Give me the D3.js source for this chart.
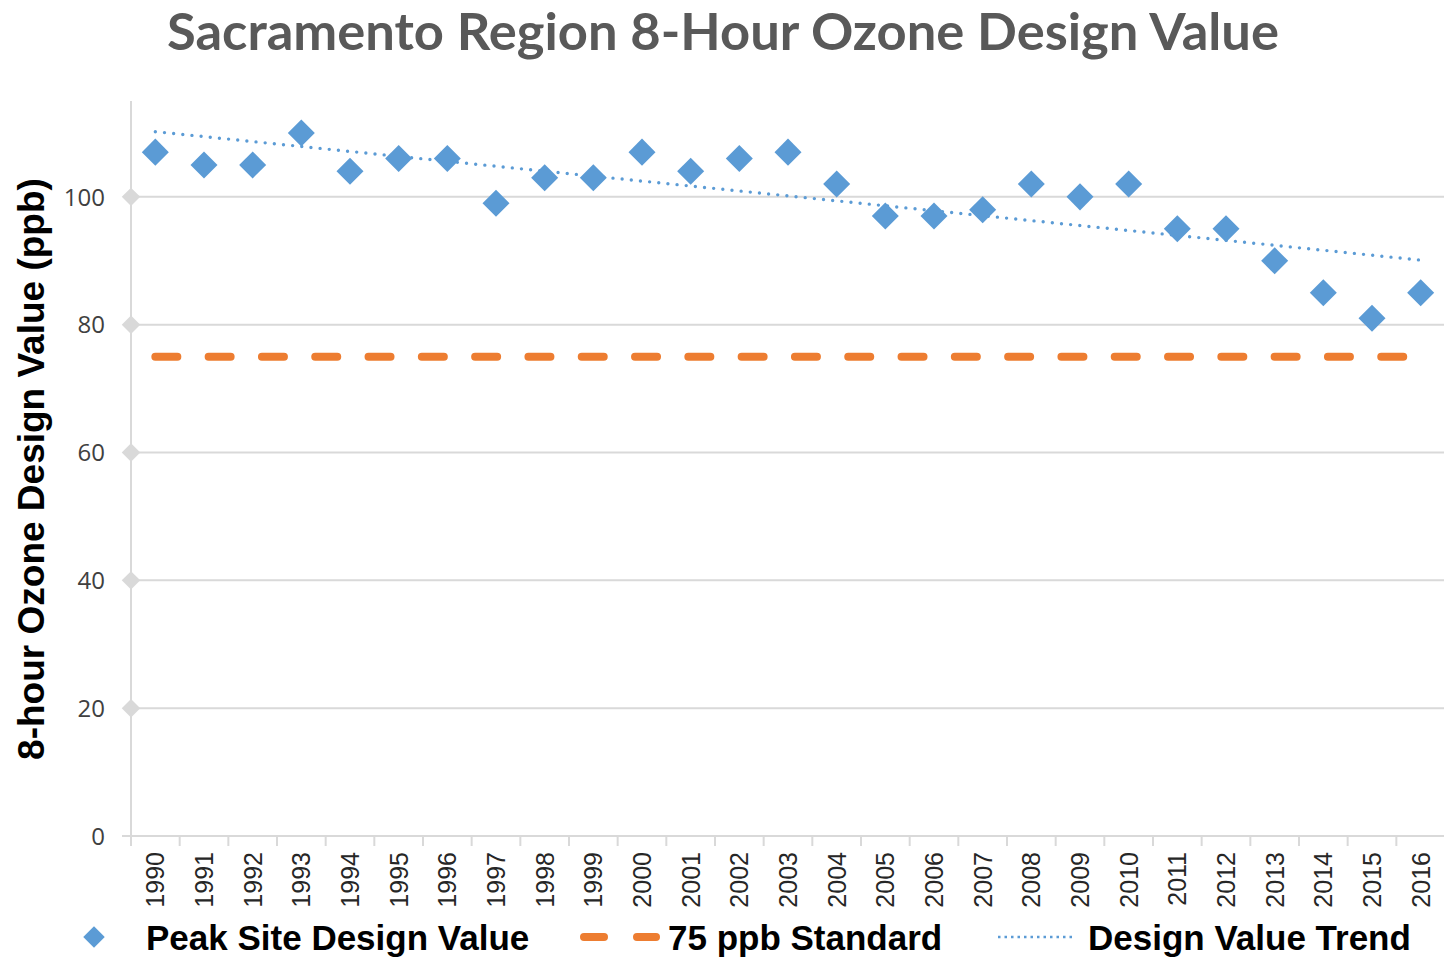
<!DOCTYPE html>
<html>
<head>
<meta charset="utf-8">
<script src="https://cdn.jsdelivr.net/npm/d3@7"></script>
<style>
  body { margin: 0; background: #fff; }
</style>
</head>
<body>
<script>
// chart data
const years = ["1990","1991","1992","1993","1994","1995","1996","1997","1998","1999",
               "2000","2001","2002","2003","2004","2005","2006","2007","2008","2009",
               "2010","2011","2012","2013","2014","2015","2016"];
const peakValues = [107,105,105,110,104,106,106,99,103,103,
                    107,104,106,107,102,97,97,98,102,100,
                    102,95,95,90,85,81,85];
const standardValue = 75;
const trendYears = ["1990", "2016"];
const trendValues = [110.2, 90.1];
const yTicks = [0, 20, 40, 60, 80, 100];
const legendLabels = ["Peak Site Design Value", "75 ppb Standard", "Design Value Trend"];
const chartTitle = "Sacramento Region 8-Hour Ozone Design Value";
const yTitle = "8-hour Ozone Design Value (ppb)";

const blue = "#5B9BD5", orange = "#ED7D31", grid = "#D9D9D9";

let margin = null, width = null, height = null;
let svg = null, root = null;
let x, y = null;

setupCanvasSize();
appendSvg("body");
setupScales();
appendGrid();
appendAxes();
appendStandardLine();
appendTrendLine();
appendPoints();
appendTitles();
appendLegend();

// center of a year's band
function cx(d) {
  return x(d) + x.bandwidth() / 2;
}

function setupCanvasSize() {
  margin = {top: 101, left: 131, bottom: 122, right: 0};
  width = 1445 - margin.left;
  height = 836 - margin.top;
}

function appendSvg(domElement) {
  root = d3.select(domElement).append("svg")
    .attr("width", 1444)
    .attr("height", 958);
  svg = root.append("g")
    .attr("transform", `translate(${margin.left}, ${margin.top})`);
}

function setupScales() {
  x = d3.scaleBand()
    .range([0, width])
    .domain(years)
    .padding(0);
  y = d3.scaleLinear()
    .range([height, 0])
    .domain([0, 115]);
}

function appendGrid() {
  svg.selectAll(".grid")
    .data(yTicks.filter(d => d > 0))
    .enter().append("line")
    .attr("class", "grid")
    .attr("x1", 0).attr("x2", width)
    .attr("y1", d => y(d)).attr("y2", d => y(d))
    .style("stroke", grid).style("stroke-width", 2);
}

function appendAxes() {
  // y axis line
  svg.append("line")
    .attr("x1", 0).attr("x2", 0)
    .attr("y1", 0).attr("y2", height + 10)
    .style("stroke", grid).style("stroke-width", 2);
  // x axis line
  svg.append("line")
    .attr("x1", -9).attr("x2", width)
    .attr("y1", height).attr("y2", height)
    .style("stroke", grid).style("stroke-width", 2);

  // category boundary ticks
  svg.selectAll(".xtick")
    .data(years.slice(1))
    .enter().append("line")
    .attr("class", "xtick")
    .attr("x1", d => x(d)).attr("x2", d => x(d))
    .attr("y1", height).attr("y2", height + 10)
    .style("stroke", grid).style("stroke-width", 2);

  // y tick markers
  svg.selectAll(".ymark")
    .data(yTicks.filter(d => d > 0))
    .enter().append("path")
    .attr("class", "ymark")
    .attr("d", d3.symbol(d3.symbolSquare, 170))
    .attr("transform", d => `translate(0, ${y(d)}) rotate(45)`)
    .style("fill", grid);

  svg.selectAll(".ylabel")
    .data(yTicks)
    .enter().append("text")
    .attr("class", "ylabel")
    .attr("x", -26)
    .attr("y", d => y(d))
    .attr("dy", "0.36em")
    .style("text-anchor", "end")
    .style("font-family", "'Open Sans', sans-serif")
    .style("font-size", "24px")
    .style("fill", "#404040")
    .text(d => d);

  svg.selectAll(".xlabel")
    .data(years)
    .enter().append("text")
    .attr("class", "xlabel")
    .attr("transform", d => `translate(${cx(d)}, ${height + 16}) rotate(-90)`)
    .attr("dy", "0.36em")
    .style("text-anchor", "end")
    .style("font-family", "'Liberation Sans', Arial, sans-serif")
    .style("font-size", "25px")
    .style("fill", "#262626")
    .text(d => d);
}

function appendStandardLine() {
  svg.append("line")
    .attr("x1", cx(years[0])).attr("x2", cx(years[years.length - 1]))
    .attr("y1", y(standardValue)).attr("y2", y(standardValue))
    .style("stroke", orange)
    .style("stroke-width", 8)
    .style("stroke-linecap", "round")
    .style("stroke-dasharray", "22,31.3");
}

function appendTrendLine() {
  const line = d3.line()
    .x((d, i) => cx(trendYears[i]))
    .y(d => y(d));
  svg.append("path")
    .datum(trendValues)
    .attr("d", line)
    .style("fill", "none")
    .style("stroke", blue)
    .style("stroke-width", 3.4)
    .style("stroke-linecap", "round")
    .style("stroke-dasharray", "0,9.2");
}

function appendPoints() {
  svg.selectAll(".pt")
    .data(peakValues)
    .enter().append("path")
    .attr("class", "pt")
    .attr("d", d3.symbol(d3.symbolSquare, 365))
    .attr("transform", (d, i) => `translate(${cx(years[i])}, ${y(d)}) rotate(45)`)
    .style("fill", blue);
}

function appendTitles() {
  root.append("text")
    .attr("x", 723).attr("y", 50)
    .attr("textLength", 1112)
    .attr("lengthAdjust", "spacingAndGlyphs")
    .style("text-anchor", "middle")
    .style("font-family", "Lato, sans-serif")
    .style("font-weight", "bold")
    .style("font-size", "51px")
    .style("fill", "#595959")
    .text(chartTitle);

  root.append("text")
    .attr("transform", "translate(31, 469) rotate(-90)")
    .attr("dy", "0.36em")
    .style("text-anchor", "middle")
    .style("font-family", "'Liberation Sans', Arial, sans-serif")
    .style("font-weight", "bold")
    .style("font-size", "37px")
    .style("fill", "#000")
    .text(yTitle);
}

function appendLegend() {
  const legend = root.append("g").attr("class", "legend");
  const ly = 937;

  legend.append("path")
    .attr("d", d3.symbol(d3.symbolSquare, 230))
    .attr("transform", `translate(94, ${ly}) rotate(45)`)
    .style("fill", blue);

  legend.append("line")
    .attr("x1", 584).attr("x2", 656)
    .attr("y1", ly).attr("y2", ly)
    .style("stroke", orange)
    .style("stroke-width", 8)
    .style("stroke-linecap", "round")
    .style("stroke-dasharray", "20,33");

  legend.append("line")
    .attr("x1", 998).attr("x2", 1073)
    .attr("y1", ly).attr("y2", ly)
    .style("stroke", blue)
    .style("stroke-width", 2.5)
    .style("stroke-dasharray", "2.5,4");

  const textX = [146, 668, 1088];
  legend.selectAll("text")
    .data(legendLabels)
    .enter().append("text")
    .attr("x", (d, i) => textX[i])
    .attr("y", ly)
    .attr("dy", "0.36em")
    .style("font-family", "'Liberation Sans', Arial, sans-serif")
    .style("font-weight", "bold")
    .style("font-size", "35px")
    .style("fill", "#000")
    .text(d => d);
}
</script>
</body>
</html>
